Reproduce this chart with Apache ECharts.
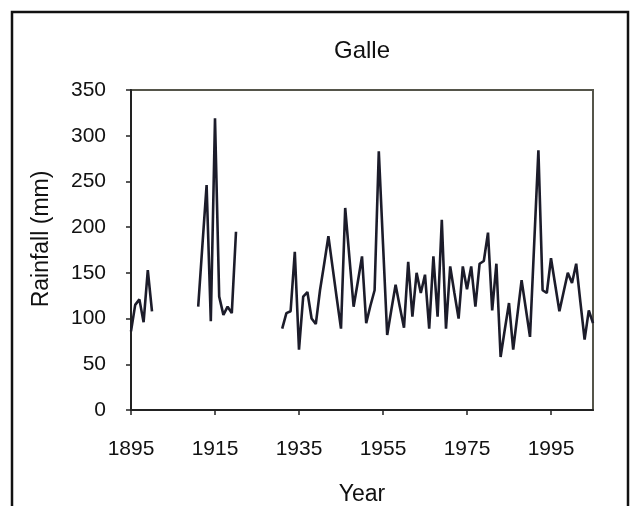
<!DOCTYPE html>
<html>
<head>
<meta charset="utf-8">
<script src="https://cdn.jsdelivr.net/npm/echarts@6/dist/echarts.min.js"></script>
<style>
html,body{margin:0;padding:0;background:#fff;}
#chart{width:639px;height:506px;}
</style>
</head>
<body>
<div id="chart"></div>
<script>
// Axis categories (years)
var firstYear = 1895;
var lastYear = 2005;
var yTicks = [0, 50, 100, 150, 200, 250, 300, 350];

var start1 = 1895;
var rain1 = [86, 115, 121, 96, 153, 108];
var start2 = 1911;
var rain2 = [113, 180, 246, 97, 319, 124, 104, 113, 106, 195];
var start3 = 1931;
var rain3 = [89, 106, 108, 173, 66, 124, 129, 100, 94, 131,
             160, 190, 156, 122, 89, 221, 167, 113, 140, 168,
             95, 114, 131, 283, 182, 82, 110, 137, 113, 90,
             162, 102, 150, 128, 148, 89, 168, 102, 208, 89,
             157, 128, 100, 157, 132, 157, 113, 160, 163, 194,
             109, 160, 58, 88, 117, 66, 104, 142, 111, 80,
             182, 284, 131, 128, 166, 137, 108, 129, 150, 139,
             160, 118, 77, 109, 95];

var years = [];
for (var y = firstYear; y <= lastYear; y++) years.push(String(y));
var data = years.map(function(){ return null; });
function place(start, arr){
  arr.forEach(function(v, i){ data[start - firstYear + i] = v; });
}
place(start1, rain1);
place(start2, rain2);
place(start3, rain3);

var chart = echarts.init(document.getElementById('chart'), null, {renderer:'canvas'});
var font = 'Liberation Sans, Arial, sans-serif';
chart.setOption({
  backgroundColor: '#ffffff',
  animation: false,
  grid: {left:131, right:46, top:90, bottom:96, show:true, borderColor:'#55554a', borderWidth:2, backgroundColor:'#ffffff'},
  graphic: [
    {type:'rect', shape:{x:12, y:12, width:616, height:520}, style:{fill:'none', stroke:'#111', lineWidth:2.5}, z:-1},
    {type:'text', x:362, y:51, style:{text:'Galle', font:'24px ' + font, fill:'#111', textAlign:'center', textVerticalAlign:'middle'}},
    {type:'text', x:362, y:495, style:{text:'Year', font:'23px ' + font, fill:'#111', textAlign:'center', textVerticalAlign:'middle'}},
    {type:'text', x:42, y:239, rotation:Math.PI/2, style:{text:'Rainfall (mm)', font:'23px ' + font, fill:'#111', textAlign:'center', textVerticalAlign:'middle'}}
  ],
  xAxis: {
    type:'category', data: years, boundaryGap:false,
    axisLine:{show:true, lineStyle:{color:'#222', width:2}},
    axisTick:{show:true, interval:19, length:5, lineStyle:{color:'#222', width:1.5}},
    axisLabel:{interval:19, margin:29, fontSize:21, fontFamily:font, color:'#111'},
    splitLine:{show:false}
  },
  yAxis: {
    type:'value', min:yTicks[0], max:yTicks[yTicks.length-1], interval:50,
    axisLine:{show:true, lineStyle:{color:'#222', width:2}},
    axisTick:{show:true, length:5, lineStyle:{color:'#222', width:1.5}},
    axisLabel:{margin:25, fontSize:21, fontFamily:font, color:'#111'},
    splitLine:{show:false}
  },
  series: [{
    type:'line', data: data, connectNulls:false, showSymbol:false, symbol:'none',
    lineStyle:{color:'#1c1c2a', width:2.6}
  }]
});
</script>
</body>
</html>
